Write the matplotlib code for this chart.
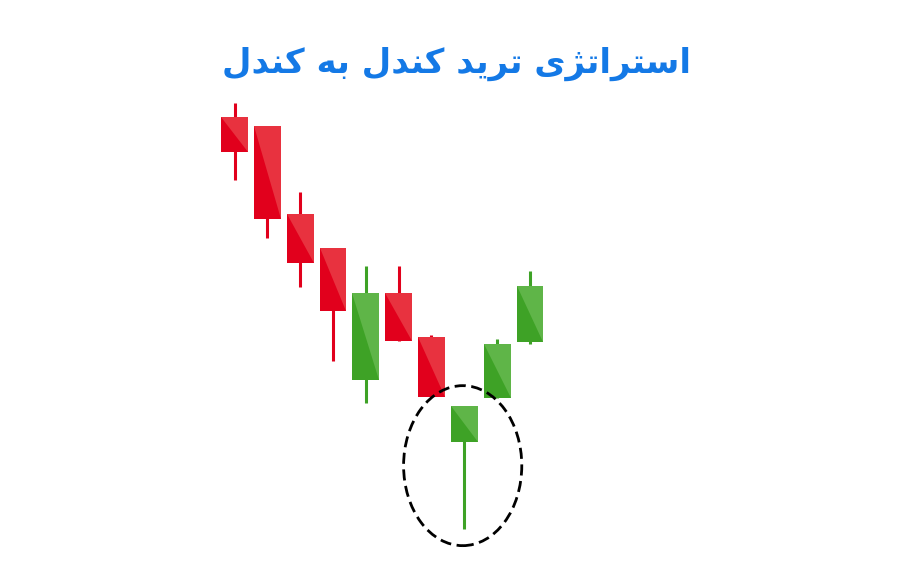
import matplotlib
matplotlib.use("Agg")
import matplotlib.pyplot as plt
from matplotlib.patches import Rectangle, Polygon, Ellipse

# candle data (price units), left to right
opens = [48.33, 47.43, 38.57, 35.20, 22.00, 30.67, 26.33, 15.77, 20.23, 25.77]
highs = [49.70, 47.43, 40.80, 35.20, 33.43, 33.43, 26.50, 19.40, 26.07, 32.93]
lows = [42.00, 36.17, 31.30, 23.93, 19.73, 25.90, 20.33, 7.07, 20.23, 25.57]
closes = [44.77, 38.10, 33.73, 28.90, 30.67, 25.90, 20.33, 19.40, 25.57, 31.43]
hammer = 7  # the circled candle

TITLE = "استراتژی ترید کندل به کندل"

# arabic presentation forms: isol, fina, init, medi
forms = {
    "ا": (0xFE8D, 0xFE8E), "د": (0xFEA9, 0xFEAA), "ر": (0xFEAD, 0xFEAE),
    "ژ": (0xFB8A, 0xFB8B),
    "س": (0xFEB1, 0xFEB2, 0xFEB3, 0xFEB4), "ت": (0xFE95, 0xFE96, 0xFE97, 0xFE98),
    "ی": (0xFBFC, 0xFBFD, 0xFBFE, 0xFBFF), "ک": (0xFB8E, 0xFB8F, 0xFB90, 0xFB91),
    "ن": (0xFEE5, 0xFEE6, 0xFEE7, 0xFEE8), "ل": (0xFEDD, 0xFEDE, 0xFEDF, 0xFEE0),
    "ب": (0xFE8F, 0xFE90, 0xFE91, 0xFE92), "ه": (0xFEE9, 0xFEEA, 0xFEEB, 0xFEEC),
}


def shape(text):
    # join letters by hand and put them in visual order (no shaping in matplotlib)
    out = []
    for i, ch in enumerate(text):
        if ch not in forms:
            out.append(ch)
            continue
        prev = text[i - 1] if i > 0 else ""
        nxt = text[i + 1] if i + 1 < len(text) else ""
        jp = prev in forms and len(forms[prev]) == 4
        jn = len(forms[ch]) == 4 and nxt in forms
        f = forms[ch]
        if jp and jn:
            c = f[3]
        elif jp:
            c = f[1]
        elif jn:
            c = f[2]
        else:
            c = f[0]
        out.append(chr(c))
    return "".join(out[::-1])


red_dark, red_light = "#e1001c", "#e8323f"
green_dark, green_light = "#3ea226", "#5fb548"

fig = plt.figure(figsize=(9.1, 5.72), dpi=100)
ax = fig.add_axes([0, 0, 1, 1])
ax.set_xlim(-7.143, 20.575)
ax.set_ylim(2.8, 60.0)
ax.axis("off")

w = 0.82
for i in range(len(opens)):
    o, h, l, c = opens[i], highs[i], lows[i], closes[i]
    up = c >= o
    dark = green_dark if up else red_dark
    light = green_light if up else red_light
    top, bot = max(o, c), min(o, c)
    ax.plot([i, i], [l, h], color=dark, lw=2.2, solid_capstyle="butt", zorder=1)
    ax.add_patch(Rectangle((i - w / 2, bot), w, top - bot, color=dark, lw=0, zorder=2))
    ax.add_patch(Polygon([(i - w / 2, top), (i + w / 2, top), (i + w / 2, bot)],
                         closed=True, color=light, lw=0, zorder=3))

# circle round the hammer
ax.add_patch(Ellipse((hammer - 0.05, (highs[hammer] + lows[hammer]) / 2 + 0.2), 3.6, 16.0,
                     fill=False, edgecolor="black", lw=2.0, linestyle=(0, (4, 2)), zorder=4))

fig.text(0.502, 0.888, shape(TITLE), ha="center", va="center", color="#1479e6",
         fontsize=24.5, fontweight="bold", family=["DejaVu Sans"])

fig.savefig("out.png", dpi=100, facecolor="white")
